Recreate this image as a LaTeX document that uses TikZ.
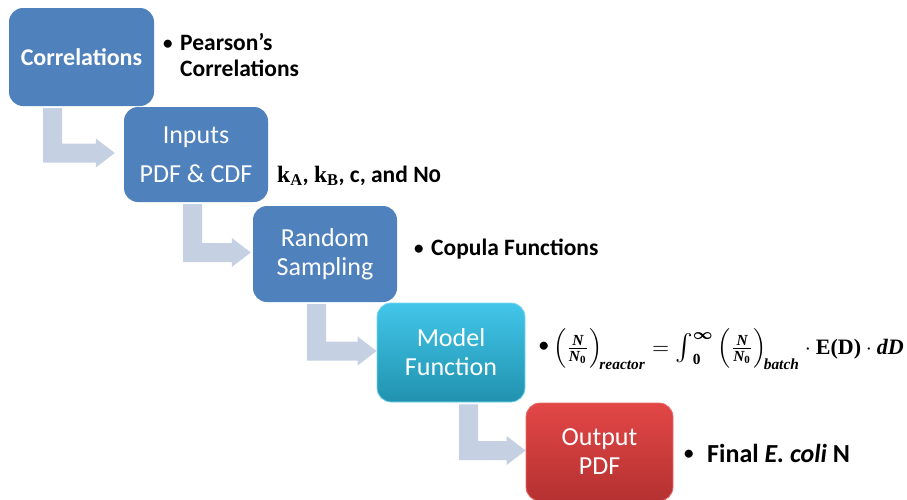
\documentclass[tikz,border=0pt]{standalone}
\usepackage{amsmath}
\usepackage{graphicx}
\usepackage[no-math]{fontspec}
\setmainfont{Carlito}
\newfontfamily\serifbf{Liberation Serif}
\usetikzlibrary{calc}
\definecolor{boxblue}{HTML}{4F81BD}
\definecolor{arrowc}{HTML}{C5D0E3}
\definecolor{cyantop}{HTML}{42C6EA}
\definecolor{cyanbot}{HTML}{2192AE}
\definecolor{redtop}{HTML}{E24746}
\definecolor{redbot}{HTML}{B53131}
\newcommand{\sbi}[1]{\text{\serifbf\bfseries\itshape #1}}
\newcommand{\sbf}[1]{\text{\serifbf\bfseries #1}}
\newcommand{\bigint}{\mathop{\vcenter{\hbox{\scalebox{1.2}{$\int$}}}}\nolimits}
\newcommand{\ratio}{\left(\tfrac{\sbi{N}}{\sbi{N}_{\sbf{0}}}\right)}
\tikzset{
  flowbox/.style={rectangle, rounded corners=14pt, inner sep=0pt, text=white, align=center},
  bluebox/.style={flowbox, fill=boxblue},
  boxtext/.style={font=\fontsize{26}{29}\selectfont},
  sidetext/.style={inner sep=0pt, anchor=base west, font=\fontsize{23.5}{26}\selectfont\bfseries},
  bulletmark/.style={inner sep=0pt, anchor=base west, font=\fontsize{19}{20}\selectfont\bfseries},
  elbow/.style={fill=arrowc},
}
% #1 source, #2 target, #3 left x of vertical bar, #4 gap of tip before target
\newcommand{\elbowarrow}[4]{%
  \fill[elbow] let \p1=(#1.south), \p2=(#2.west) in
   (#3pt,\y1-2pt) -- (#3pt+19pt,\y1-2pt) -- (#3pt+19pt,\y2+11pt)
   -- (\x2-#4pt-19pt,\y2+11pt) -- (\x2-#4pt-19pt,\y2+16pt) -- (\x2-#4pt,\y2+1.5pt)
   -- (\x2-#4pt-19pt,\y2-13pt) -- (\x2-#4pt-19pt,\y2-8pt) -- (#3pt,\y2-8pt) -- cycle;}
\begin{document}
\begin{tikzpicture}[x=1pt,y=-1pt]
\useasboundingbox (0,0) rectangle (907,499);
% boxes
\node[bluebox, minimum width=145pt, minimum height=98pt, font=\fontsize{24}{29}\selectfont\bfseries] (corr) at (81.5,57) {Correlations};
\node[bluebox, minimum width=144pt, minimum height=95pt, font=\fontsize{26}{39}\selectfont] (inp) at (196,154.5) {Inputs\\PDF \& CDF};
\node[bluebox, boxtext, minimum width=144pt, minimum height=96pt] (rs) at (325,254) {Random\\Sampling};
\node[flowbox, boxtext, top color=cyantop, bottom color=cyanbot, draw=cyantop!70!white, line width=0.8pt, minimum width=148pt, minimum height=99pt] (mf) at (451,352.5) {Model\\Function};
\node[flowbox, boxtext, top color=redtop, bottom color=redbot, draw=redtop!80!white, line width=0.8pt, minimum width=147pt, minimum height=98pt] (out) at (599.5,452) {Output\\PDF};
% arrows
\elbowarrow{corr}{inp}{43}{9}
\elbowarrow{inp}{rs}{183}{2}
\elbowarrow{rs}{mf}{307}{0}
\elbowarrow{mf}{out}{459}{0}
% side texts
\node[bulletmark] (bul1) at (163,49) {•};
\node[sidetext] (t1a) at (180,50) {Pearson’s};
\node[sidetext] (t1b) at (180,76) {Correlations};
\node[sidetext] (t2) at (277,182) {{\serifbf k\textsubscript{A}}, {\serifbf k\textsubscript{B}}, c, and N{\addfontfeatures{Numbers=OldStyle}0}};
\node[bulletmark] (bul3) at (414,254) {•};
\node[sidetext] (t3) at (431,255) {Copula Functions};
\node[bulletmark] (bul4) at (539,351) {•};
\node[inner sep=0pt, anchor=base west] (t4) at (553,354)
  {\scalebox{2.2}{$\ratio_{\!\sbi{reactor}} = \bigint_{\sbf{0}}^{\boldsymbol{\infty}} \ratio_{\!\sbi{batch}} \cdot \sbf{E(D)} \cdot \sbi{dD}$}};
\node[bulletmark] (bul5) at (684,459) {•};
\node[sidetext, font=\fontsize{26}{29}\selectfont\bfseries] (t5) at (707,462) {Final \textit{E. coli} N};
\end{tikzpicture}
\end{document}
